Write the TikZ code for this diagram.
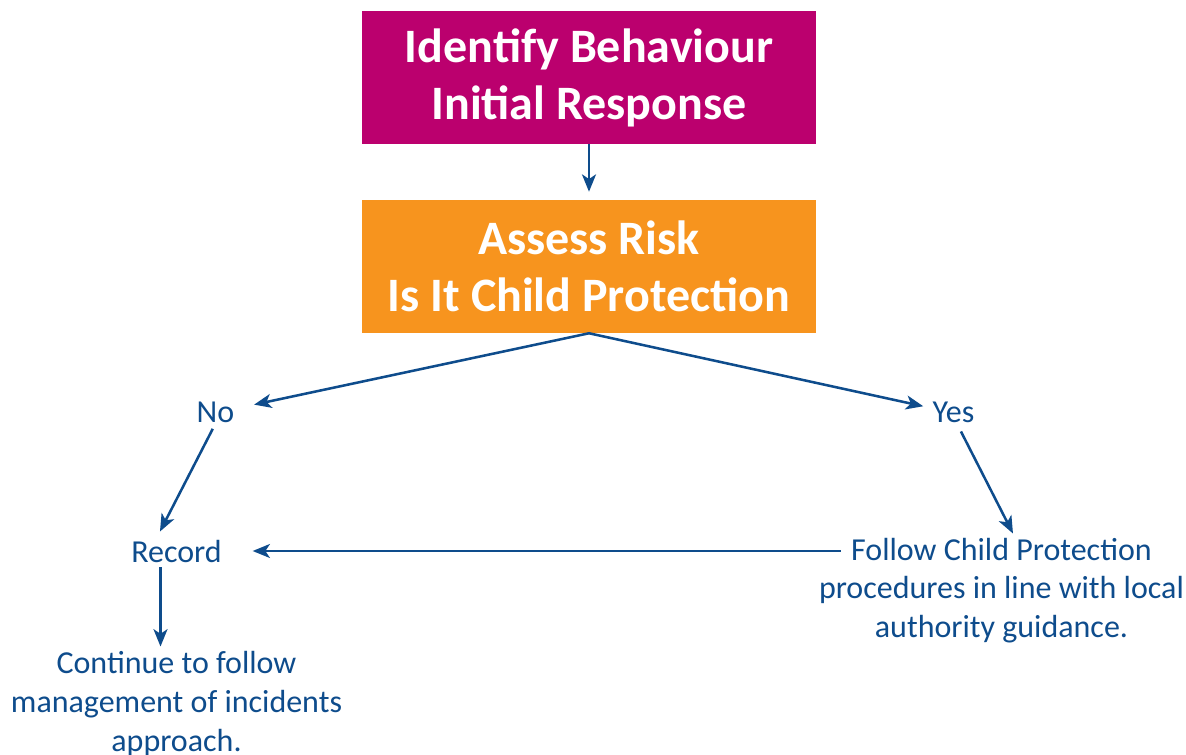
\documentclass[tikz,border=0pt]{standalone}
\usepackage{fontspec}
\setmainfont{Carlito}
\usetikzlibrary{arrows.meta}
\definecolor{boxmag}{RGB}{187,0,110}
\definecolor{boxorg}{RGB}{247,148,30}
\definecolor{lineblue}{RGB}{14,76,140}
\tikzset{
  stepbox/.style={minimum width=340.5pt, minimum height=99.75pt, inner sep=0pt, text=white, align=center,
    font=\fontsize{36}{42.75}\selectfont\bfseries},
  lbl/.style={text=lineblue, inner sep=0pt, align=center, font=\fontsize{24}{29.25}\selectfont},
  arr/.style={draw=lineblue, line width=1.9pt, -{Stealth[length=13pt,width=10.5pt,inset=3.5pt]}}
}
\begin{document}
\begin{tikzpicture}[x=0.75pt,y=-0.75pt]
\useasboundingbox (0,0) rectangle (1186,755);
\node[stepbox, fill=boxmag] (b1) at (589,77.5) {Identify Behaviour\\Initial Response};
\node[stepbox, fill=boxorg] (b2) at (589,266.5) {Assess Risk\\Is It Child Protection};
\node[lbl, anchor=base] (no) at (215.5,423) {No};
\node[lbl, anchor=base] (yes) at (953.5,423) {Yes};
\node[lbl, anchor=base] (record) at (176.5,562) {Record};
\node[lbl, anchor=base] (follow) at (1001.5,638) {Follow Child Protection\\procedures in line with local\\authority guidance.};
\node[lbl, anchor=base] (cont) at (176.5,751) {Continue to follow\\management of incidents\\approach.};
\draw[arr, shorten >=6pt] (b1.south) -- (b2.north);
\draw[arr, shorten >=15pt] (b2.south) -- (no);
\draw[arr, shorten >=7pt] (b2.south) -- (yes);
\draw[arr, shorten <=4.5pt] (no.south) -- ([xshift=-12.4pt,yshift=6pt]record.north);
\draw[arr] ([xshift=5.6pt,yshift=-6pt]yes.south) -- ([xshift=8.6pt,yshift=3pt]follow.north);
\draw[arr, shorten >=23pt] ([xshift=16.5pt]follow.west |- record.east) -- (record.east);
\draw[arr, shorten <=3.75pt, shorten >=3pt] ([xshift=-12pt]record.south) -- ([xshift=-12pt]cont.north);
\end{tikzpicture}
\end{document}
